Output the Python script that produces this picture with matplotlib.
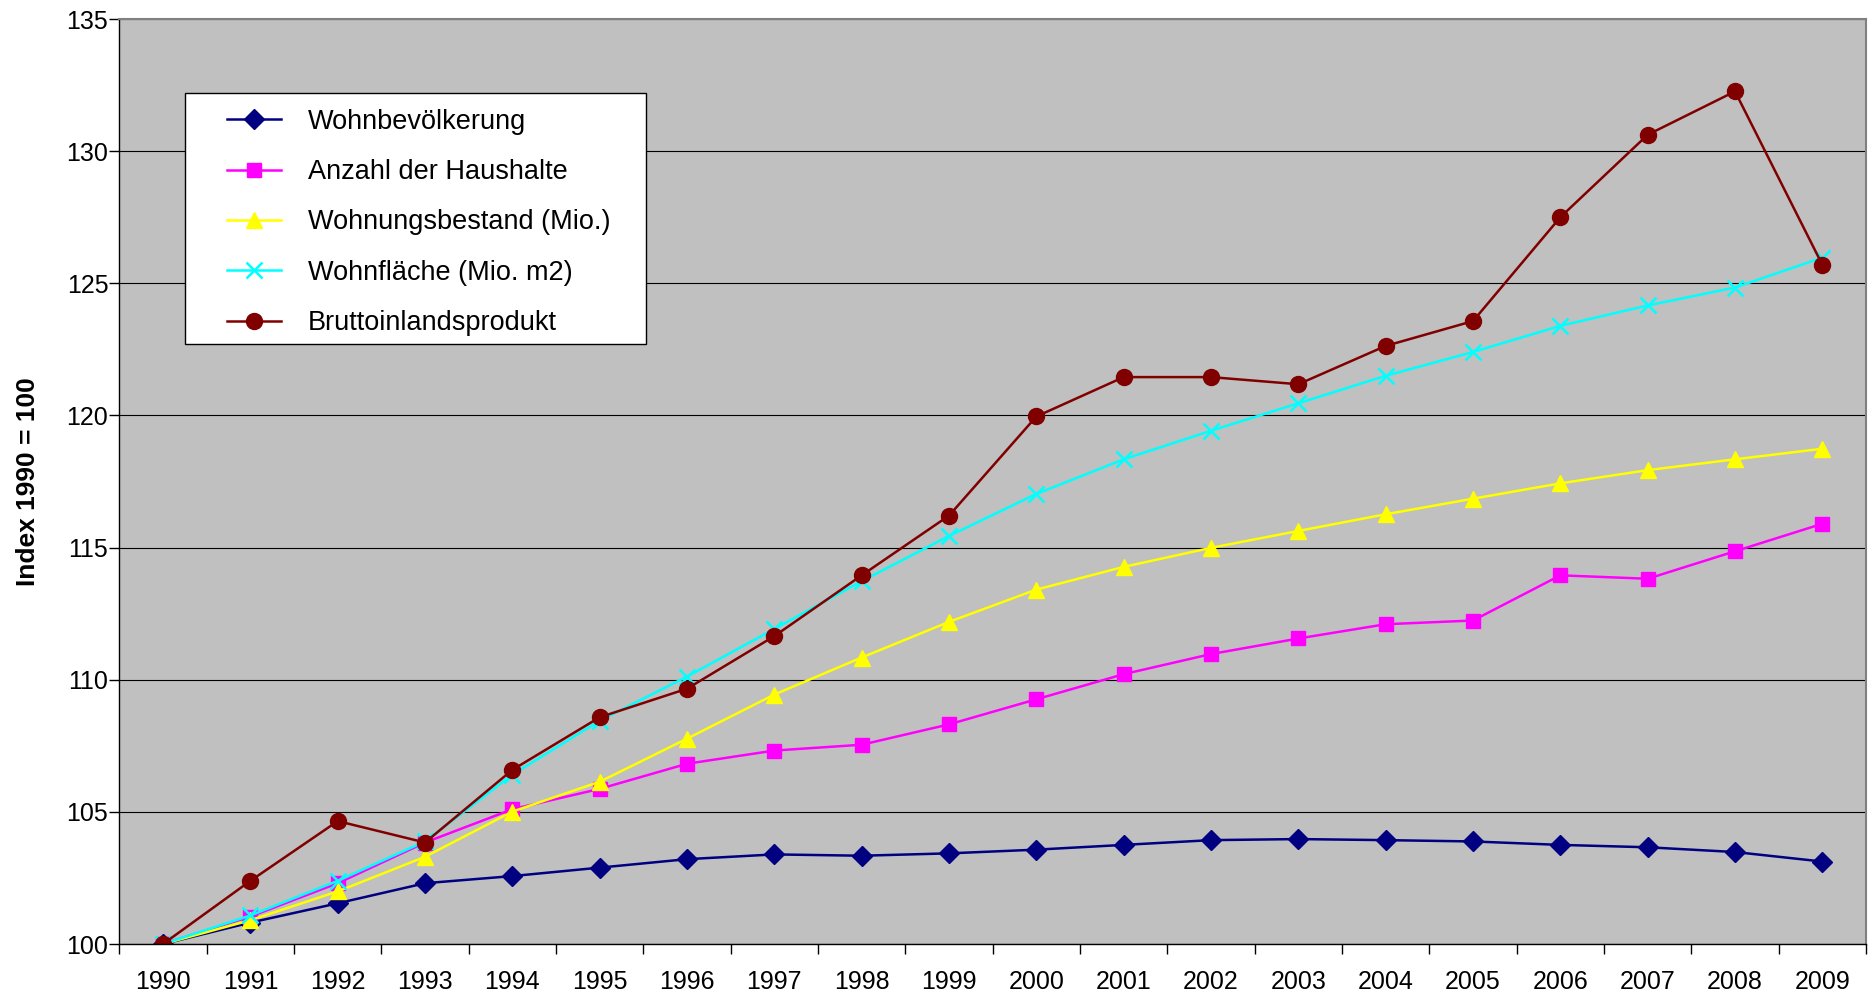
import numpy as np
import matplotlib.pyplot as plt
from matplotlib.patches import Rectangle

plt.rcParams['font.family'] = ['Liberation Sans', 'DejaVu Sans']

years = [str(y) for y in range(1990, 2010)]

# Index values, 1990 = 100
wohnbevoelkerung = [100.0, 100.81, 101.54, 102.30, 102.57, 102.89, 103.21, 103.39, 103.34, 103.43,
                    103.57, 103.75, 103.93, 103.97, 103.93, 103.88, 103.75, 103.66, 103.48, 103.12]
haushalte = [100.0, 101.04, 102.30, 103.84, 105.10, 105.87, 106.82, 107.32, 107.54, 108.31,
             109.26, 110.21, 110.97, 111.56, 112.10, 112.24, 113.95, 113.82, 114.86, 115.90]
wohnungsbestand = [100.0, 100.90, 101.99, 103.30, 105.01, 106.14, 107.77, 109.44, 110.84, 112.19,
                   113.41, 114.27, 114.99, 115.63, 116.26, 116.85, 117.43, 117.93, 118.34, 118.74]
wohnflaeche = [100.0, 101.08, 102.39, 103.88, 106.41, 108.45, 110.12, 111.92, 113.73, 115.44,
               117.03, 118.34, 119.42, 120.46, 121.50, 122.40, 123.39, 124.16, 124.84, 125.97]
bip = [100.0, 102.39, 104.65, 103.84, 106.59, 108.58, 109.66, 111.65, 113.95, 116.21,
       119.96, 121.45, 121.45, 121.18, 122.63, 123.57, 127.50, 130.62, 132.26, 125.70]

series = [
    ("Wohnbevölkerung", wohnbevoelkerung, '#000080', 'D', 10),
    ("Anzahl der Haushalte", haushalte, '#FF00FF', 's', 10.5),
    ("Wohnungsbestand (Mio.)", wohnungsbestand, '#FFFF00', '^', 11.5),
    ("Wohnfläche (Mio. m2)", wohnflaeche, '#00FFFF', 'x', 11.5),
    ("Bruttoinlandsprodukt", bip, '#800000', 'o', 11.5),
]

fig = plt.figure(figsize=(18.72, 9.98), dpi=100)
ax = fig.add_axes([119.4 / 1872, 1 - 944 / 998, 1746.6 / 1872, 925 / 998])
ax.set_facecolor('#C0C0C0')

x = np.arange(len(years))
for name, vals, col, mk, ms in series:
    ax.plot(x, vals, color=col, marker=mk, markersize=ms, linewidth=1.8,
            markeredgewidth=1.8 if mk == 'x' else 1.0, markeredgecolor=col,
            label=name)

ax.set_xlim(-0.5, len(years) - 0.5)
ax.set_ylim(100, 135)
ax.set_yticks(np.arange(100, 136, 5))
ax.set_xticks(x)
ax.set_xticklabels(years)
ax.set_xticks(np.arange(-0.5, len(years), 1), minor=True)
ax.tick_params(axis='x', which='major', length=0, pad=19, labelsize=18)
ax.tick_params(axis='x', which='minor', length=7, width=1, direction='out', color='black')
ax.tick_params(axis='y', length=7, width=1, direction='out', labelsize=18, pad=1)

ax.yaxis.grid(True, color='black', linewidth=0.8)
ax.set_axisbelow(True)

for side in ['top', 'right']:
    ax.spines[side].set_color('#808080')
    ax.spines[side].set_linewidth(1.5)
for side in ['left', 'bottom']:
    ax.spines[side].set_color('black')
    ax.spines[side].set_linewidth(1.0)

ax.set_ylabel("Index 1990 = 100", fontsize=19, fontweight='bold', labelpad=19)

# legend box drawn by hand, legend entries without frame
ax.add_patch(Rectangle((0.0376, 0.6486), 0.2639, 0.2714, transform=ax.transAxes,
                       facecolor='white', edgecolor='black', linewidth=1.0, zorder=5))
leg = ax.legend(loc='upper left', bbox_to_anchor=(0.0616, 0.903), fontsize=19.5,
                frameon=False, borderpad=0, labelspacing=0.9, handlelength=2.0,
                handletextpad=1.0, borderaxespad=0)
leg.set_zorder(6)

fig.savefig('out.png', dpi=100)
